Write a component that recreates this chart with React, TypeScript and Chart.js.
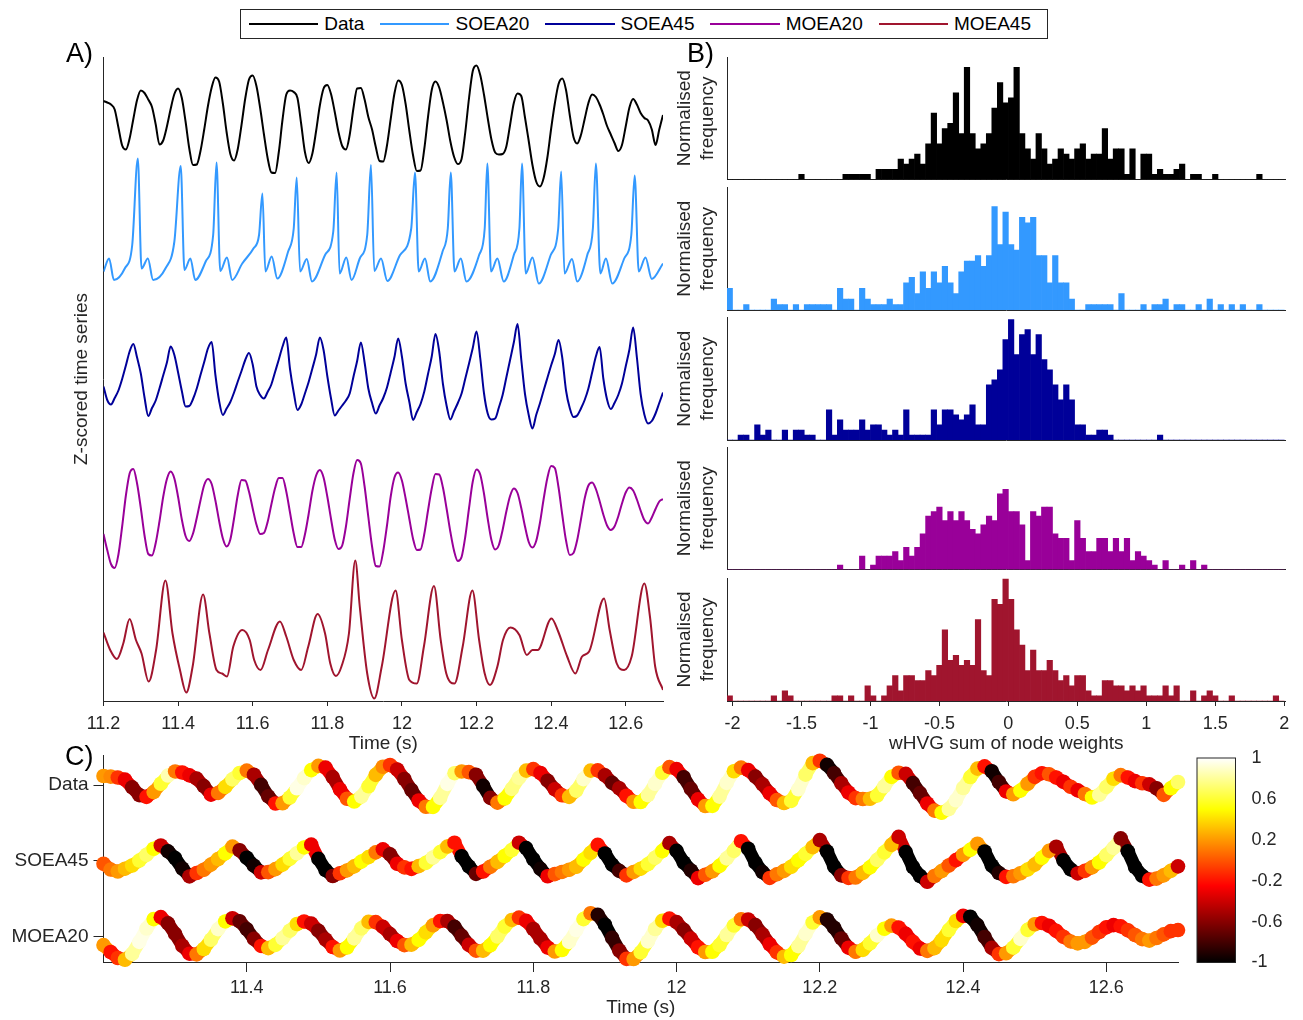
import React, { useEffect, useRef } from 'react';
import { Chart, registerables } from 'chart.js';

Chart.register(...registerables);

// ---------- look ----------
const FONT_FAMILY = '"Liberation Sans", Arial, Helvetica, sans-serif';
const INK = '#262626';
const PAGE_W = 1303;
const PAGE_H = 1020;

Chart.defaults.font.family = FONT_FAMILY;
Chart.defaults.color = INK;

// ---------- series ----------
const SERIES_NAMES = ['Data', 'SOEA20', 'SOEA45', 'MOEA20', 'MOEA45'];
const SERIES_COLORS = ['#000000', '#3399ff', '#000099', '#990099', '#a0152e'];

// uniformly sampled traces (z-scored), first sample at 11.2 s, one every 10 ms
const SAMPLE_START = 11.2;
const SAMPLE_STEP = 0.01;

const dataTrace = [
  0.42, 0.39, 0.35, 0.25, -0.11, -0.47, -0.55, -0.33, 0.06, 0.44,
  0.63, 0.58, 0.45, 0.30, -0.05, -0.45, -0.37, -0.09, 0.26, 0.56,
  0.67, 0.48, 0.01, -0.53, -0.86, -0.85, -0.58, -0.15, 0.32, 0.69,
  0.89, 0.81, 0.37, -0.20, -0.64, -0.77, -0.54, -0.06, 0.47, 0.85,
  0.93, 0.72, 0.28, -0.24, -0.72, -1.01, -1.02, -0.60, 0.05, 0.55,
  0.63, 0.60, 0.48, -0.04, -0.60, -0.82, -0.63, -0.18, 0.33, 0.67,
  0.74, 0.56, 0.20, -0.20, -0.48, -0.55, -0.26, 0.27, 0.67, 0.68,
  0.45, 0.10, -0.15, -0.50, -0.78, -0.79, -0.47, 0.06, 0.57, 0.83,
  0.74, 0.36, -0.18, -0.67, -0.98, -0.97, -0.54, 0.10, 0.64, 0.81,
  0.69, 0.39, 0.03, -0.39, -0.70, -0.84, -0.74, -0.20, 0.48, 1.02,
  1.13, 0.94, 0.55, 0.08, -0.35, -0.61, -0.65, -0.64, -0.49, -0.06,
  0.38, 0.57, 0.52, 0.09, -0.38, -0.86, -1.19, -1.29, -1.12, -0.71,
  -0.14, 0.37, 0.76, 0.87, 0.64, 0.14, -0.30, -0.43, -0.26, 0.06,
  0.38, 0.55, 0.50, 0.35, 0.15, -0.08, -0.25, -0.42, -0.58, -0.46,
  -0.09, 0.29, 0.46, 0.35, 0.18, 0.08, 0.03, -0.15, -0.46, -0.15,
  0.14,
];

const soea45Trace = [
  -0.13, -0.40, -0.49, -0.36, -0.21, 0.02, 0.29, 0.57, 0.72, 0.45,
  0.13, -0.35, -0.72, -0.56, -0.41, -0.17, 0.09, 0.35, 0.67, 0.50,
  0.15, -0.22, -0.53, -0.52, -0.38, -0.17, 0.10, 0.36, 0.63, 0.76,
  0.10, -0.42, -0.70, -0.57, -0.44, -0.25, -0.03, 0.18, 0.40, 0.54,
  0.31, -0.13, -0.30, -0.37, -0.24, -0.09, 0.16, 0.41, 0.67, 0.85,
  0.22, -0.25, -0.60, -0.49, -0.27, -0.04, 0.23, 0.51, 0.85, 0.60,
  0.08, -0.37, -0.71, -0.61, -0.51, -0.41, -0.27, 0.06, 0.38, 0.75,
  0.35, -0.17, -0.46, -0.67, -0.51, -0.36, -0.15, 0.15, 0.46, 0.83,
  0.47, -0.07, -0.44, -0.80, -0.64, -0.48, -0.23, 0.12, 0.47, 0.92,
  0.57, -0.08, -0.52, -0.79, -0.62, -0.46, -0.27, 0.03, 0.33, 0.64,
  0.97, 0.44, -0.26, -0.67, -0.79, -0.77, -0.55, -0.30, 0.05, 0.40,
  0.75, 1.12, 0.41, -0.28, -0.70, -0.97, -0.70, -0.47, -0.21, 0.04,
  0.29, 0.52, 0.80, 0.44, -0.21, -0.56, -0.74, -0.71, -0.57, -0.40,
  -0.17, 0.15, 0.47, 0.66, 0.03, -0.39, -0.58, -0.46, -0.30, -0.07,
  0.27, 0.61, 1.05, 0.45, -0.28, -0.69, -0.87, -0.82, -0.67, -0.46,
  -0.25,
];

const moea20Trace = [
  -0.38, -0.70, -0.98, -1.06, -0.79, -0.23, 0.39, 0.83, 0.92, 0.63,
  0.14, -0.41, -0.78, -0.81, -0.56, -0.13, 0.36, 0.72, 0.87, 0.73,
  0.36, -0.09, -0.42, -0.52, -0.37, -0.06, 0.29, 0.60, 0.72, 0.62,
  0.29, -0.12, -0.47, -0.63, -0.49, -0.07, 0.40, 0.70, 0.69, 0.47,
  0.13, -0.19, -0.38, -0.36, -0.14, 0.21, 0.54, 0.74, 0.74, 0.47,
  0.05, -0.37, -0.64, -0.64, -0.39, 0.02, 0.48, 0.79, 0.90, 0.75,
  0.37, -0.08, -0.49, -0.68, -0.61, -0.23, 0.32, 0.83, 1.10, 1.03,
  0.57, -0.04, -0.63, -1.02, -1.03, -0.72, -0.21, 0.37, 0.75, 0.85,
  0.69, 0.33, -0.08, -0.48, -0.70, -0.69, -0.38, 0.09, 0.53, 0.82,
  0.81, 0.55, 0.12, -0.34, -0.72, -0.92, -0.84, -0.43, 0.14, 0.67,
  0.91, 0.81, 0.43, -0.07, -0.50, -0.69, -0.60, -0.30, 0.07, 0.38,
  0.53, 0.44, 0.14, -0.23, -0.54, -0.65, -0.52, -0.16, 0.32, 0.74,
  0.98, 0.94, 0.55, 0.00, -0.51, -0.80, -0.76, -0.50, -0.09, 0.33,
  0.59, 0.65, 0.52, 0.28, 0.01, -0.21, -0.30, -0.23, -0.03, 0.23,
  0.45, 0.55, 0.49, 0.31, 0.09, -0.10, -0.17, -0.05, 0.12, 0.27,
  0.32,
];

// irregularly sampled traces: time (s) and z-scored value
const soea20Times = [
  11.200, 11.215, 11.228, 11.257, 11.277, 11.292, 11.302, 11.319, 11.333, 11.366,
  11.390, 11.407, 11.417, 11.433, 11.446, 11.474, 11.494, 11.503, 11.513, 11.531,
  11.545, 11.572, 11.602, 11.617, 11.626, 11.634, 11.651, 11.666, 11.695, 11.710,
  11.718, 11.727, 11.745, 11.759, 11.794, 11.816, 11.825, 11.833, 11.851, 11.865,
  11.887, 11.907, 11.917, 11.926, 11.944, 11.961, 11.995, 12.025, 12.035, 12.045,
  12.062, 12.076, 12.109, 12.123, 12.131, 12.141, 12.158, 12.173, 12.207, 12.222,
  12.229, 12.239, 12.256, 12.273, 12.300, 12.315, 12.322, 12.332, 12.350, 12.367,
  12.399, 12.419, 12.427, 12.436, 12.456, 12.470, 12.497, 12.512, 12.520, 12.532,
  12.547, 12.564, 12.596, 12.615, 12.624, 12.635, 12.653, 12.670, 12.700,
];
const soea20Trace = [
  -0.53, -0.27, -0.70, -0.47, 0.00, 1.73, -0.47, -0.27, -0.70, -0.47,
  0.07, 1.58, -0.50, -0.27, -0.70, -0.33, 0.20, 1.65, -0.52, -0.25,
  -0.70, -0.37, -0.07, 0.20, 1.03, -0.53, -0.23, -0.67, -0.13, 0.33,
  1.35, -0.53, -0.28, -0.73, -0.20, 0.27, 1.45, -0.57, -0.25, -0.70,
  -0.27, 0.20, 1.60, -0.52, -0.27, -0.72, -0.20, 0.33, 1.45, -0.53,
  -0.27, -0.73, -0.13, 0.33, 1.45, -0.53, -0.27, -0.73, -0.20, 0.33,
  1.63, -0.53, -0.27, -0.73, -0.20, 0.33, 1.63, -0.57, -0.25, -0.77,
  -0.20, 0.33, 1.47, -0.57, -0.28, -0.73, -0.20, 0.33, 1.63, -0.57,
  -0.27, -0.77, -0.27, 0.20, 1.39, -0.53, -0.25, -0.68, -0.37,
];

const moea45Times = [
  11.200, 11.218, 11.236, 11.253, 11.270, 11.287, 11.302, 11.321, 11.341, 11.366,
  11.385, 11.405, 11.422, 11.439, 11.467, 11.484, 11.503, 11.518, 11.531, 11.548,
  11.572, 11.592, 11.604, 11.621, 11.641, 11.673, 11.690, 11.710, 11.730, 11.749,
  11.774, 11.794, 11.808, 11.823, 11.838, 11.858, 11.875, 11.887, 11.907, 11.926,
  11.946, 11.983, 12.000, 12.020, 12.040, 12.059, 12.086, 12.104, 12.119, 12.141,
  12.163, 12.189, 12.207, 12.222, 12.236, 12.256, 12.271, 12.291, 12.315, 12.335,
  12.350, 12.364, 12.401, 12.419, 12.443, 12.465, 12.483, 12.502, 12.542, 12.557,
  12.576, 12.596, 12.616, 12.650, 12.665, 12.679, 12.700,
];
const moea45Trace = [
  0.15, -0.20, -0.38, -0.07, 0.42, 0.00, -0.27, -0.83, -0.20, 1.19,
  0.13, -0.60, -1.05, -0.53, 0.91, 0.13, -0.60, -0.67, -0.73, -0.13,
  0.20, 0.00, -0.40, -0.60, -0.20, 0.37, 0.07, -0.40, -0.60, -0.13,
  0.52, 0.13, -0.47, -0.72, -0.53, 0.13, 1.59, 0.67, -0.67, -1.17,
  -0.53, 0.99, 0.00, -0.80, -0.87, -0.13, 1.08, 0.00, -0.67, -0.87,
  -0.13, 0.99, 0.00, -0.67, -0.90, -0.53, 0.00, 0.25, 0.10, -0.30,
  -0.20, -0.20, 0.43, 0.17, -0.33, -0.67, -0.33, -0.23, 0.83, 0.20,
  -0.47, -0.60, -0.33, 1.13, 0.47, -0.53, -1.00,
];

// wHVG node weights for every sample of the three traces shown in panel C
const dataWeights = [
  0.2, 0.15, -0.1, -0.3, -0.6, -0.6, -0.2, 0.2, 0.6, 0.85,
  0.1, -0.2, -0.3, -0.5, -0.6, -0.3, 0.1, 0.4, 0.7, 0.6,
  0.1, -0.5, -0.8, -0.7, -0.2, 0.2, 0.6, 0.95, 0.9, 0.5,
  0.2, -0.3, -0.5, -0.3, 0.0, 0.5, 0.8, 0.6, 0.3, 0.15,
  -0.1, -0.4, -0.6, -0.7, -0.3, 0.1, 0.5, 0.8, 0.95, 0.7,
  0.2, 0.0, -0.6, -0.95, -0.6, 0.1, 0.5, 0.75, 0.8, 0.3,
  -0.1, -0.3, -0.6, -0.4, -0.1, 0.3, 0.7, 0.9, 0.3, -0.1,
  -0.5, -0.7, -0.5, -0.2, 0.2, 0.5, 0.8, 0.9, 0.6, 0.0,
  -0.3, -0.8, -0.7, -0.3, 0.2, 0.5, 0.8, 0.9, 0.4, 0.1,
  -0.3, -0.6, -0.5, -0.3, 0.0, 0.3, 0.6, 0.9, 0.7, 0.3,
  -0.1, -0.95, -0.8, -0.5, -0.3, -0.1, 0.1, 0.3, 0.6, 0.8,
  0.5, 0.0, -0.4, -0.8, -0.7, -0.3, 0.1, 0.5, 0.8, 0.9,
  0.8, 0.6, 0.3, -0.2, -0.95, -0.8, -0.3, 0.2, 0.5, 0.2,
  -0.1, -0.2, 0.0, -0.2, -0.3, -0.1, -0.3, 0.1, 0.5, 0.8,
  0.7, 0.4, 0.1, -0.2, -0.3, -0.1, -0.4, -0.6, 0.0, 0.5,
  0.7,
];
const soea45Weights = [
  0.0, 0.1, 0.2, 0.3, 0.4, 0.6, 0.7, 0.5, -0.4, -0.95,
  -1, -0.95, -0.5, -0.1, 0.1, 0.2, 0.3, 0.5, 0.2, -0.6,
  -1, -0.95, -0.4, 0.0, 0.2, 0.4, 0.6, 0.8, 0.5, -0.3,
  -1, -1, -0.6, -0.1, 0.2, 0.3, 0.5, 0.4, 0.1, -0.3,
  -0.6, -0.3, -0.1, -0.2, 0.3, 0.6, 0.8, 0.6, 0.3, -0.2,
  -1, -1, -0.7, -0.2, 0.1, 0.3, 0.5, 0.6, -0.4, -1,
  -1, -0.95, -0.3, 0.0, 0.1, 0.2, 0.3, 0.5, 0.4, -0.2,
  -1, -1, -0.8, -0.1, 0.2, 0.4, 0.6, 0.7, 0.5, -0.5,
  -1, -1, -0.9, -0.3, 0.0, 0.2, 0.5, 0.8, 0.7, -0.2,
  -1, -1, -0.95, -0.1, 0.1, 0.2, 0.4, 0.5, 0.6, 0.3,
  -0.5, -1, -1, -0.6, -0.1, 0.1, 0.3, 0.5, 0.7, 0.6,
  0.3, -0.4, -1, -1, -1, -0.4, 0.1, 0.2, 0.0, -0.2,
  0.2, 0.5, 0.2, -1, -1, -0.9, -0.2, 0.1, 0.2, 0.4,
  0.3, 0.5, 0.2, -0.5, -1, -1, -0.4, -0.1, 0.2, 0.5,
  0.7, 0.8, -0.6, -1, -1, -1, -0.2, 0.1, 0.2, 0.3,
  -0.4,
];
const moea20Weights = [
  0.2, -0.2, -0.1, 0.3, 0.8, 0.95, 0.9, 0.5, -0.3, -0.6,
  -0.6, -0.5, -0.3, 0.1, 0.4, 0.7, 0.9, 0.5, -0.4, -0.7,
  -0.8, -0.6, -0.2, 0.3, 0.6, 0.8, 0.7, 0.4, -0.2, -0.4,
  -0.6, -0.5, -0.2, 0.2, 0.5, 0.8, 0.7, 0.3, -0.1, -0.4,
  -0.5, -0.3, 0.0, 0.3, 0.5, 0.4, 0.2, -0.2, -0.5, -0.8,
  -0.7, -0.4, 0.0, 0.3, 0.5, 0.7, 0.6, 0.3, -0.1, -0.3,
  -0.5, -0.5, -0.3, 0.2, 0.5, 0.9, 0.95, 0.6, 0.1, -0.9,
  -1, -0.85, -0.6, -0.1, 0.2, 0.6, 0.9, 0.8, 0.4, -0.2,
  -0.5, -0.6, -0.4, -0.2, 0.2, 0.5, 0.6, 0.8, 0.6, 0.1,
  -0.4, -0.6, -0.5, -0.3, -0.1, 0.3, 0.5, 0.8, 0.9, 0.6,
  0.2, -0.9, -0.9, -0.7, -0.3, 0.1, 0.4, 0.6, 0.9, 0.5,
  0.2, -0.2, -0.3, -0.2, -0.3, 0.1, 0.3, 0.4, 0.6, 0.4,
  -0.3, -1, -0.95, -0.8, -0.5, -0.1, 0.2, 0.6, 0.9, 0.6,
  0.2, -0.2, -0.3, -0.2, -0.1, 0.1, 0.2, 0.2, 0.0, -0.1,
  -0.2, -0.3, -0.2, -0.1, 0.0, 0.1, 0.2, 0.1, 0.0, -0.1,
  -0.1,
];

// histogram counts of the wHVG sum of node weights, bins of 0.04 from -2.04
const HIST_FIRST_EDGE = -2.04;
const HIST_BIN_WIDTH = 0.04;

const histData = [
  0, 0, 0, 0, 0, 0, 0, 0, 0, 0,
  0, 0, 0, 1, 0, 0, 0, 0, 0, 0,
  0, 1, 1, 1, 1, 1, 0, 2, 2, 2,
  2, 4, 3, 4, 5, 3, 7, 13, 7, 10,
  11, 17, 9, 22, 9, 6, 7, 9, 14, 19,
  15, 16, 22, 9, 6, 4, 9, 6, 3, 4,
  6, 5, 4, 6, 7, 4, 5, 5, 10, 4,
  6, 6, 1, 6, 0, 5, 5, 1, 2, 1,
  1, 2, 3, 0, 1, 1, 0, 0, 1, 0,
  0, 0, 0, 0, 0, 0, 1, 0, 0, 0,
  0,
];
const histSoea20 = [
  4, 0, 0, 1, 0, 0, 0, 0, 2, 1,
  1, 0, 1, 0, 1, 1, 1, 1, 1, 0,
  4, 2, 2, 0, 4, 2, 1, 1, 1, 2,
  1, 1, 5, 6, 3, 7, 4, 7, 5, 8,
  5, 3, 7, 9, 9, 10, 8, 10, 19, 12,
  18, 12, 11, 17, 16, 17, 10, 10, 5, 10,
  5, 5, 2, 0, 0, 1, 1, 1, 1, 1,
  0, 3, 0, 0, 0, 1, 0, 1, 1, 2,
  0, 1, 1, 0, 0, 1, 0, 2, 0, 1,
  0, 1, 0, 1, 0, 0, 1, 0, 0, 0,
  0,
];
const histSoea45 = [
  0, 0, 1, 1, 0, 3, 1, 2, 0, 0,
  2, 0, 2, 2, 1, 1, 0, 0, 6, 1,
  4, 2, 2, 2, 4, 2, 3, 3, 2, 1,
  2, 1, 6, 1, 1, 1, 1, 6, 3, 6,
  6, 5, 4, 5, 7, 3, 3, 11, 12, 14,
  20, 24, 17, 21, 22, 17, 21, 16, 14, 11,
  8, 11, 8, 3, 3, 1, 1, 2, 2, 1,
  0, 0, 0, 0, 0, 0, 0, 0, 1, 0,
  0, 0, 0, 0, 0, 0, 0, 0, 0, 0,
  0, 0, 0, 0, 0, 0, 0, 0, 0, 0,
  0,
];
const histMoea20 = [
  0, 0, 0, 0, 0, 0, 0, 0, 0, 0,
  0, 0, 0, 0, 0, 0, 0, 0, 0, 0,
  1, 0, 0, 0, 3, 0, 1, 3, 3, 3,
  4, 2, 5, 3, 5, 8, 12, 13, 14, 11,
  13, 11, 13, 11, 9, 8, 10, 12, 11, 17,
  18, 13, 13, 10, 2, 13, 12, 14, 14, 8,
  7, 7, 2, 11, 7, 4, 4, 7, 7, 4,
  7, 4, 7, 2, 4, 3, 2, 1, 0, 2,
  0, 0, 1, 0, 2, 0, 1, 0, 0, 0,
  0, 0, 0, 0, 0, 0, 0, 0, 0, 0,
  0,
];
const histMoea45 = [
  1, 0, 0, 0, 0, 0, 0, 0, 1, 0,
  2, 1, 0, 0, 0, 0, 0, 0, 0, 1,
  1, 0, 1, 0, 0, 3, 1, 0, 1, 3,
  5, 2, 5, 5, 4, 4, 6, 5, 7, 14,
  8, 9, 7, 8, 7, 16, 6, 5, 20, 19,
  24, 20, 14, 11, 6, 10, 6, 6, 8, 6,
  4, 5, 3, 5, 5, 2, 1, 1, 4, 4,
  3, 3, 2, 3, 2, 3, 1, 1, 1, 3,
  1, 3, 0, 0, 2, 0, 1, 2, 1, 0,
  0, 1, 0, 0, 0, 0, 0, 0, 0, 1,
  0,
];
const HIST_COUNTS = [histData, histSoea20, histSoea45, histMoea20, histMoea45];
// upper y limit of each histogram, in counts
const HIST_Y_TOP = [24, 22.5, 24.4, 27.5, 24.2];

// ---------- tick labels ----------
const TIME_TICKS_A = [11.2, 11.4, 11.6, 11.8, 12, 12.2, 12.4, 12.6];
const TIME_TICKS_C = [11.4, 11.6, 11.8, 12, 12.2, 12.4, 12.6];
const WEIGHT_TICKS = [-2, -1.5, -1, -0.5, 0, 0.5, 1, 1.5, 2];
const COLORBAR_TICKS = [-1, -0.6, -0.2, 0.2, 0.6, 1];
const ROW_NAMES_C = ['Data', 'SOEA45', 'MOEA20'];

// ---------- layout (page pixels) ----------
const PANEL_A = { left: 103.5, right: 663, top: 57, bottom: 701 };
const PANEL_B = {
  left: 727,
  right: 1285.6,
  tops: [57, 187.5, 317.5, 447, 578],
  bottoms: [179.5, 310, 440, 569.5, 701],
};
const PANEL_C = { left: 103.5, right: 1178, top: 755, bottom: 962 };
const COLORBAR = { left: 1197, right: 1235.5, top: 758, bottom: 962.5 };

// vertical stacking of the five traces in panel A
const STACK_OFFSETS_A = [-1.3, -3.76, -6.46, -9.16, -11.66];
// rows of panel C and the gain applied to each trace
const ROW_LEVELS_C = [0, -1, -2];
const ROW_GAIN_C = 0.283;

const tickFont = (size: number) => ({ family: FONT_FAMILY, size });
const TITLE_FONT = { family: FONT_FAMILY, size: 19 };

const timeAt = (k: number) => Math.round((SAMPLE_START + k * SAMPLE_STEP) * 1000) / 1000;

// MATLAB-style "hot" colour map on [-1, 1]
function hot(weight: number): string {
  const p = Math.min(1, Math.max(0, (weight + 1) / 2));
  const r = Math.min(1, p / 0.375);
  const g = Math.min(1, Math.max(0, (p - 0.375) / 0.375));
  const b = Math.min(1, Math.max(0, (p - 0.75) / 0.25));
  return `rgb(${Math.round(r * 255)},${Math.round(g * 255)},${Math.round(b * 255)})`;
}

function padFor(area: any, yAxisWidth: number, xAxisHeight: number, yOnRight = false) {
  if (yOnRight) {
    return {
      left: area.left,
      right: PAGE_W - area.right - yAxisWidth,
      top: area.top,
      bottom: PAGE_H - area.bottom - xAxisHeight,
    };
  }
  return {
    left: area.left - yAxisWidth,
    right: PAGE_W - area.right,
    top: area.top,
    bottom: PAGE_H - area.bottom - xAxisHeight,
  };
}
const fixWidth = (w: number) => (s: any) => { s.width = w; };
const fixHeight = (h: number) => (s: any) => { s.height = h; };
const setTicks = (values: number[]) => (s: any) => { s.ticks = values.map((value) => ({ value })); };

const BORDER = { display: true, color: INK, width: 1 };

// panel letters drawn on the canvas
const panelTag = {
  id: 'panelTag',
  afterDraw(chart: any, _args: any, opts: any) {
    if (!opts || !opts.text) return;
    const { ctx } = chart;
    ctx.save();
    ctx.font = `27px ${FONT_FAMILY}`;
    ctx.fillStyle = '#000';
    ctx.textBaseline = 'alphabetic';
    ctx.textAlign = 'left';
    ctx.fillText(opts.text, opts.x, opts.y);
    ctx.restore();
  },
};

// box around the chart area (used by the colour bar)
const frame = {
  id: 'frame',
  afterDatasetsDraw(chart: any, _args: any, opts: any) {
    if (!opts || !opts.enabled) return;
    const { ctx, chartArea: a } = chart;
    ctx.save();
    ctx.strokeStyle = INK;
    ctx.lineWidth = 1;
    ctx.strokeRect(a.left, a.top, a.right - a.left, a.bottom - a.top);
    ctx.restore();
  },
};

const BASE_OPTIONS = {
  responsive: false,
  animation: false,
  devicePixelRatio: 1,
  events: [],
};

function makePanelA(canvas: HTMLCanvasElement) {
  const uniform = (trace: number[], off: number) => trace.map((v, k) => ({ x: timeAt(k), y: off + v }));
  const paired = (times: number[], trace: number[], off: number) =>
    trace.map((v, k) => ({ x: times[k], y: off + v }));
  const lines = [
    uniform(dataTrace, STACK_OFFSETS_A[0]),
    paired(soea20Times, soea20Trace, STACK_OFFSETS_A[1]),
    uniform(soea45Trace, STACK_OFFSETS_A[2]),
    uniform(moea20Trace, STACK_OFFSETS_A[3]),
    paired(moea45Times, moea45Trace, STACK_OFFSETS_A[4]),
  ];
  return new Chart(canvas, {
    type: 'line',
    data: {
      datasets: lines.map((pts, i) => ({
        label: SERIES_NAMES[i],
        data: pts,
        borderColor: SERIES_COLORS[i],
        backgroundColor: SERIES_COLORS[i],
        borderWidth: 2,
        pointRadius: 0,
        cubicInterpolationMode: 'monotone',
        borderJoinStyle: 'round',
        fill: false,
      })),
    },
    options: {
      ...BASE_OPTIONS,
      layout: { padding: padFor(PANEL_A, 50, 60) },
      plugins: {
        legend: { display: false },
        tooltip: { enabled: false },
        panelTag: { text: 'A)', x: 66, y: 61.5 },
      },
      scales: {
        x: {
          type: 'linear',
          min: 11.2,
          max: 12.7,
          bounds: 'data',
          afterBuildTicks: setTicks(TIME_TICKS_A),
          afterFit: fixHeight(60),
          ticks: { font: tickFont(18), color: INK, padding: 7.5, autoSkip: false, maxRotation: 0, callback: (v: any) => String(v) },
          grid: { display: true, drawOnChartArea: false, drawTicks: true, tickLength: 5, color: INK },
          border: BORDER,
          title: { display: true, text: 'Time (s)', font: TITLE_FONT, color: INK, padding: { top: 0, bottom: 5.4 } },
        },
        y: {
          type: 'linear',
          min: -12.88,
          max: 0,
          afterFit: fixWidth(50),
          ticks: { display: false },
          grid: { display: false },
          border: BORDER,
          title: { display: true, text: 'Z-scored time series', font: TITLE_FONT, color: INK, padding: { top: 17.1, bottom: 0 } },
        },
      },
    },
    plugins: [panelTag],
  } as any);
}

function makeHistogram(canvas: HTMLCanvasElement, index: number) {
  const counts = HIST_COUNTS[index];
  const total = counts.reduce((a, b) => a + b, 0);
  const bars = counts.map((c, k) => ({ x: HIST_FIRST_EDGE + HIST_BIN_WIDTH * (k + 0.5), y: c / total }));
  const isBottom = index === HIST_COUNTS.length - 1;
  const area = {
    left: PANEL_B.left,
    right: PANEL_B.right,
    top: PANEL_B.tops[index],
    bottom: PANEL_B.bottoms[index],
  };
  const xAxisHeight = isBottom ? 60 : 0;
  return new Chart(canvas, {
    type: 'bar',
    data: {
      datasets: [{
        label: SERIES_NAMES[index],
        data: bars,
        backgroundColor: SERIES_COLORS[index],
        borderWidth: 0,
        barPercentage: 1,
        categoryPercentage: 1,
      }],
    },
    options: {
      ...BASE_OPTIONS,
      layout: { padding: padFor(area, 67, xAxisHeight) },
      plugins: {
        legend: { display: false },
        tooltip: { enabled: false },
        panelTag: index === 0 ? { text: 'B)', x: 687, y: 61.5 } : {},
      },
      scales: {
        x: {
          type: 'linear',
          min: -2.04,
          max: 2.01,
          bounds: 'data',
          offset: false,
          afterBuildTicks: setTicks(WEIGHT_TICKS),
          afterFit: fixHeight(xAxisHeight),
          ticks: {
            display: isBottom,
            font: tickFont(18),
            color: INK,
            padding: 7.5,
            autoSkip: false,
            maxRotation: 0,
            callback: (v: any) => String(v),
          },
          grid: { display: isBottom, offset: false, drawOnChartArea: false, drawTicks: true, tickLength: 5, color: INK },
          border: BORDER,
          title: {
            display: isBottom,
            text: 'wHVG sum of node weights',
            font: TITLE_FONT,
            color: INK,
            padding: { top: 0, bottom: 5.4 },
          },
        },
        y: {
          type: 'linear',
          min: 0,
          max: HIST_Y_TOP[index] / total,
          afterFit: fixWidth(67),
          ticks: { display: false },
          grid: { display: false },
          border: BORDER,
          title: {
            display: true,
            text: ['Normalised', 'frequency'],
            font: TITLE_FONT,
            color: INK,
            padding: { top: 13.3, bottom: 0 },
          },
        },
      },
    },
    plugins: [panelTag],
  } as any);
}

function makePanelC(canvas: HTMLCanvasElement) {
  const traces = [dataTrace, soea45Trace, moea20Trace];
  const weights = [dataWeights, soea45Weights, moea20Weights];
  return new Chart(canvas, {
    type: 'scatter',
    data: {
      datasets: traces.map((trace, r) => {
        const colours = weights[r].map(hot);
        return {
          label: ROW_NAMES_C[r],
          data: trace.map((v, k) => ({ x: timeAt(k), y: ROW_LEVELS_C[r] + ROW_GAIN_C * v })),
          // a thick coloured path joins neighbouring markers into a continuous tube
          showLine: true,
          borderWidth: 13,
          borderCapStyle: 'round',
          borderJoinStyle: 'round',
          borderColor: colours[0],
          segment: { borderColor: (ctx: any) => colours[ctx.p0DataIndex] },
          pointBackgroundColor: colours,
          pointBorderWidth: 0,
          pointBorderColor: 'rgba(0,0,0,0)',
          pointRadius: 7.3,
          clip: false,
        };
      }),
    },
    options: {
      ...BASE_OPTIONS,
      layout: { padding: padFor(PANEL_C, 100, 57.5) },
      plugins: {
        legend: { display: false },
        tooltip: { enabled: false },
        panelTag: { text: 'C)', x: 65, y: 764.5 },
      },
      scales: {
        x: {
          type: 'linear',
          min: 11.2,
          max: 12.7,
          bounds: 'data',
          afterBuildTicks: setTicks(TIME_TICKS_C),
          afterFit: fixHeight(57.5),
          ticks: { font: tickFont(18), color: INK, padding: 5.7, autoSkip: false, maxRotation: 0, callback: (v: any) => String(v) },
          grid: { display: true, drawOnChartArea: false, drawTicks: true, tickLength: 10, color: INK },
          border: BORDER,
          title: { display: true, text: 'Time (s)', font: TITLE_FONT, color: INK, padding: { top: 0, bottom: 0 } },
        },
        y: {
          type: 'linear',
          min: -2.33,
          max: 0.395,
          bounds: 'data',
          afterBuildTicks: setTicks([-2, -1, 0]),
          afterFit: fixWidth(100),
          ticks: {
            font: tickFont(19),
            color: INK,
            padding: 5,
            autoSkip: false,
            callback: (v: any) => ROW_NAMES_C[Math.round(-v)],
          },
          grid: { display: true, drawOnChartArea: false, drawTicks: true, tickLength: 10, color: INK },
          border: BORDER,
        },
      },
    },
    plugins: [panelTag],
  } as any);
}

function makeColorbar(canvas: HTMLCanvasElement) {
  const stops = [-1, -0.25, 0.5, 1];
  return new Chart(canvas, {
    type: 'bar',
    data: {
      labels: ['weight'],
      datasets: [{
        data: [[-1, 1]],
        borderWidth: 0,
        barPercentage: 1,
        categoryPercentage: 1,
        backgroundColor: (ctx: any) => {
          const chart = ctx.chart;
          const a = chart.chartArea;
          if (!a) return 'rgba(0,0,0,0)';
          const g = chart.ctx.createLinearGradient(0, a.bottom, 0, a.top);
          stops.forEach((w) => g.addColorStop((w + 1) / 2, hot(w)));
          return g;
        },
      }],
    },
    options: {
      ...BASE_OPTIONS,
      layout: { padding: padFor(COLORBAR, 60, 0, true) },
      plugins: {
        legend: { display: false },
        tooltip: { enabled: false },
        frame: { enabled: true },
      },
      scales: {
        x: { display: false },
        y: {
          position: 'right',
          min: -1,
          max: 1,
          bounds: 'data',
          afterBuildTicks: setTicks(COLORBAR_TICKS),
          afterFit: fixWidth(60),
          ticks: { font: tickFont(18), color: INK, padding: 8, autoSkip: false, callback: (v: any) => String(v) },
          grid: { display: false },
          border: { display: false },
        },
      },
    },
    plugins: [frame],
  } as any);
}

function Legend() {
  return (
    <div
      style={{
        position: 'absolute',
        left: 240,
        top: 9,
        width: 808,
        height: 30,
        boxSizing: 'border-box',
        border: `1px solid ${INK}`,
        background: '#fff',
        display: 'flex',
        alignItems: 'center',
        paddingLeft: 8,
        fontFamily: FONT_FAMILY,
        fontSize: 19,
        color: '#000',
        whiteSpace: 'nowrap',
      }}
    >
      {SERIES_NAMES.map((name, i) => (
        <React.Fragment key={name}>
          <span
            style={{
              display: 'inline-block',
              width: 71,
              height: 0,
              borderTop: `2px solid ${SERIES_COLORS[i]}`,
              marginRight: 6,
            }}
          />
          <span style={{ marginRight: 16, lineHeight: '22px' }}>{name}</span>
        </React.Fragment>
      ))}
    </div>
  );
}

const CANVAS_COUNT = 8;

export default function App() {
  const canvases = useRef<(HTMLCanvasElement | null)[]>([]);

  useEffect(() => {
    const c = canvases.current;
    const charts = [
      makePanelA(c[0] as HTMLCanvasElement),
      ...HIST_COUNTS.map((_, i) => makeHistogram(c[1 + i] as HTMLCanvasElement, i)),
      makePanelC(c[6] as HTMLCanvasElement),
      makeColorbar(c[7] as HTMLCanvasElement),
    ];
    return () => charts.forEach((ch) => ch.destroy());
  }, []);

  return (
    <div
      style={{
        position: 'absolute',
        left: 0,
        top: 0,
        width: PAGE_W,
        height: PAGE_H,
        background: '#fff',
        overflow: 'hidden',
      }}
    >
      {Array.from({ length: CANVAS_COUNT }, (_, i) => (
        <canvas
          key={i}
          ref={(el) => { canvases.current[i] = el; }}
          width={PAGE_W}
          height={PAGE_H}
          style={{ position: 'absolute', left: 0, top: 0 }}
        />
      ))}
      <Legend />
    </div>
  );
}
